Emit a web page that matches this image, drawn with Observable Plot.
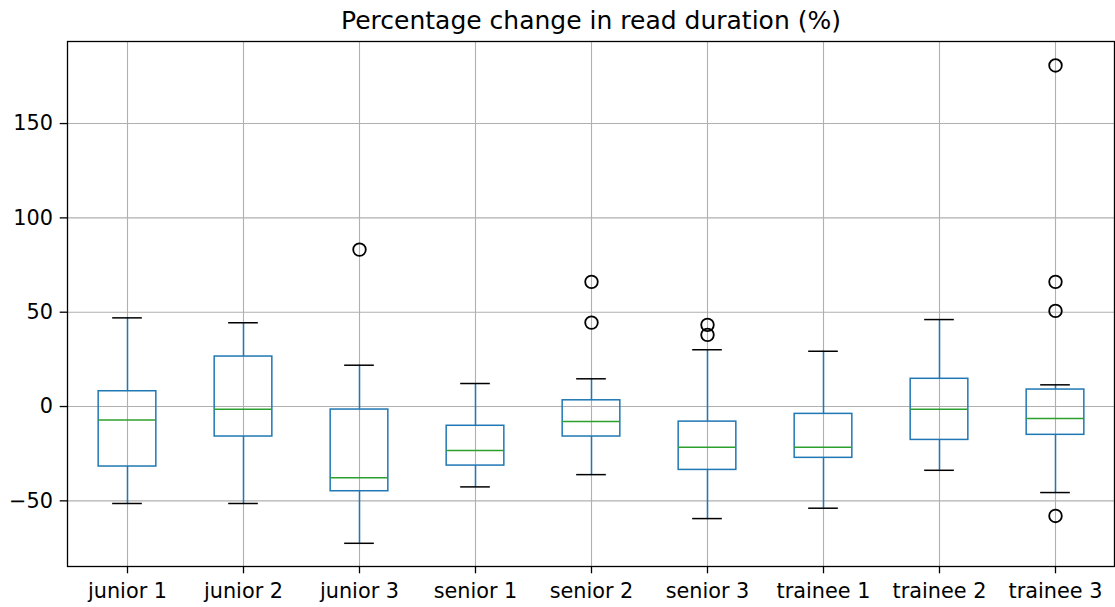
<!DOCTYPE html>
<html>
<head>
<meta charset="utf-8">
<script src="https://cdn.jsdelivr.net/npm/d3@7"></script>
<script src="https://cdn.jsdelivr.net/npm/@observablehq/plot@0.6"></script>
<style>
  html, body { margin: 0; padding: 0; background: #fff; }
</style>
</head>
<body>
<div id="chart"></div>
<script>
const categories = ["junior 1", "junior 2", "junior 3", "senior 1", "senior 2", "senior 3", "trainee 1", "trainee 2", "trainee 3"];
const whiskerLow  = [-51.4, -51.4, -72.5, -42.6, -36.1, -59.4, -53.9, -33.8, -45.6];
const q1          = [-31.8, -15.9, -44.9, -31.3, -15.9, -33.6, -27.2, -17.7, -15.0];
const median      = [-7.1, -1.4, -37.8, -23.3, -8.0, -21.6, -21.6, -1.4, -6.4];
const q3          = [8.1, 26.5, -1.6, -10.2, 3.3, -8.0, -3.9, 14.7, 9.0];
const whiskerHigh = [47.0, 44.4, 21.9, 12.2, 14.7, 30.1, 29.3, 46.1, 11.5];
const outlierGroups = ["junior 3", "senior 2", "senior 2", "senior 3", "senior 3", "trainee 3", "trainee 3", "trainee 3", "trainee 3"];
const outlierValues = [83.2, 66.1, 44.5, 43.3, 38.0, 180.8, 66.1, 50.7, -58.0];
const yTicks = [-50, 0, 50, 100, 150];
const title = "Percentage change in read duration (%)";

const boxes = categories.map((c, i) => ({
  cat: c, lo: whiskerLow[i], q1: q1[i], med: median[i], q3: q3[i], hi: whiskerHigh[i]
}));
const outliers = outlierGroups.map((c, i) => ({cat: c, value: outlierValues[i]}));

const blue = "#1f77b4", green = "#2ca02c";
const W = 1115, H = 607;
const mL = 67, mR = 1, mT = 41, mB = 41;
const band = (W - mL - mR) / categories.length;
const boxInset = (band - 58) / 2;
const capInset = (band - 30) / 2;

const chart = Plot.plot({
  width: W,
  height: H,
  marginLeft: mL,
  marginRight: mR,
  marginTop: mT,
  marginBottom: mB,
  style: {fontFamily: "DejaVu Sans", fontSize: "20.8px", color: "#000", background: "#fff"},
  x: {type: "band", domain: categories, padding: 0, label: null},
  y: {domain: [-84.8, 193.5], label: null},
  marks: [
    Plot.ruleY(yTicks, {stroke: "#b0b0b0", strokeWidth: 1.1, strokeOpacity: 1}),
    Plot.ruleX(categories, {x: d => d, stroke: "#b0b0b0", strokeWidth: 1.1, strokeOpacity: 1}),
    Plot.barY(boxes, {x: "cat", y1: "q1", y2: "q3", insetLeft: boxInset, insetRight: boxInset, fill: "none", stroke: blue, strokeWidth: 1.5}),
    Plot.ruleX(boxes, {x: "cat", y1: "lo", y2: "q1", stroke: blue, strokeWidth: 1.5}),
    Plot.ruleX(boxes, {x: "cat", y1: "q3", y2: "hi", stroke: blue, strokeWidth: 1.5}),
    Plot.tickY(boxes, {x: "cat", y: "lo", insetLeft: capInset, insetRight: capInset, stroke: "#000", strokeWidth: 1.5}),
    Plot.tickY(boxes, {x: "cat", y: "hi", insetLeft: capInset, insetRight: capInset, stroke: "#000", strokeWidth: 1.5}),
    Plot.tickY(boxes, {x: "cat", y: "med", insetLeft: boxInset, insetRight: boxInset, stroke: green, strokeWidth: 1.5}),
    Plot.dot(outliers, {x: "cat", y: "value", r: 6.3, fill: "none", stroke: "#000", strokeWidth: 1.8}),
    Plot.frame({stroke: "#000", strokeWidth: 1.3}),
    Plot.axisY({ticks: yTicks, tickSize: 7.3, tickPadding: 7.3, label: null, stroke: "#000", strokeWidth: 1.3}),
    Plot.axisX({tickSize: 7.3, tickPadding: 9, label: null, stroke: "#000", strokeWidth: 1.3}),
    Plot.text([title], {frameAnchor: "top", dy: -21, lineAnchor: "middle", fontSize: 25, fill: "#000", text: d => d})
  ]
});
document.getElementById("chart").appendChild(chart);
</script>
</body>
</html>
